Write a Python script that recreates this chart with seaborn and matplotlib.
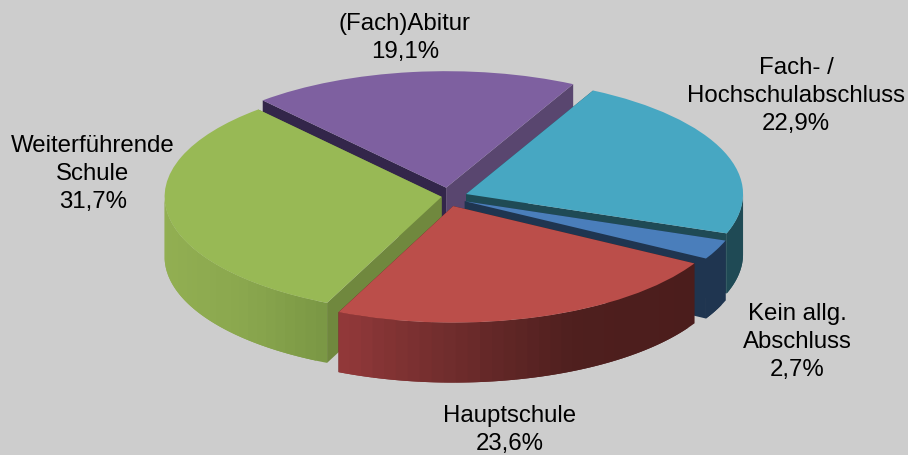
import numpy as np
import matplotlib
matplotlib.use("Agg")
import matplotlib.pyplot as plt
import seaborn as sns

# --- data ---
names = ["Fach- /\nHochschulabschluss", "Kein allg.\nAbschluss", "Hauptschule",
         "Weiterführende\nSchule", "(Fach)Abitur"]
shares = [22.9, 2.7, 23.6, 31.7, 19.1]

# --- styles ---
top_colors = ["#47a7c2", "#4a7ebb", "#bb4e4a", "#98b955", "#7e60a0"]
side_stops = [["#1f4a55", "#1f4a55"],
              ["#1f3550", "#1f3550"],
              ["#4b1d1c", "#4f1f1e", "#6e2c2c", "#93393a"],
              ["#7a9744", "#8aa74e", "#92af52"],
              ["#59466f", "#59466f"]]
cut_start = ["#1f4a55", "#1f3550", "#4b1d1c", "#70883e", "#33264a"]
cut_end = ["#1f4a55", "#1f3550", "#4b1d1c", "#70883e", "#59466f"]
label_pos = [(796, 96), (797, 342), (510, 430), (93, 174), (405, 38)]
nudge_px = [(0, 0), (-1, 3), (-5, 5), (0, 0), (-6.5, -3)]

W, H = 908, 455
RX, RY, DEPTH = 277.0, 116.5, 60.0
CX, CY = 454.2, 196.0
START = 62.7
EXPLODE = 0.046

sns.set_theme(style="white", rc={"figure.facecolor": "#cdcdcd", "axes.facecolor": "#cdcdcd"})
plt.rcParams["font.family"] = ["Liberation Sans", "DejaVu Sans"]

fig = plt.figure(figsize=(W / 100, H / 100), dpi=100)
ax = fig.add_axes([0, 0, 1, 1])

# Tops: one exploded pie, squashed into an ellipse by the unequal axis scales
wedges, _ = ax.pie(shares, explode=[EXPLODE] * len(shares), startangle=START, counterclock=False,
                   colors=top_colors, radius=1.0, wedgeprops={"linewidth": 0, "zorder": 5})
ax.set_aspect("auto")
ax.set_xlim(-CX / RX, (W - CX) / RX)
ax.set_ylim(-(H - CY) / RY, CY / RY)
ax.set_axis_off()

depth = DEPTH / RY
total = sum(shares)
edges = np.cumsum([0] + shares) / total * 360

# Extruded walls, painted back to front
for order, i in enumerate([4, 0, 3, 1, 2]):
    a0 = np.radians(START - edges[i])
    a1 = np.radians(START - edges[i + 1])
    mid = (a0 + a1) / 2
    nx, ny = nudge_px[i][0] / RX, -nudge_px[i][1] / RY
    ox, oy = EXPLODE * np.cos(mid) + nx, EXPLODE * np.sin(mid) + ny
    wedges[i].set_center((ox, oy))
    z = 1 + order * 0.1
    for a, col in ((a0, cut_start[i]), (a1, cut_end[i])):
        x, y = ox + np.cos(a), oy + np.sin(a)
        ax.fill([ox, x, x, ox], [oy, y, y - depth, oy - depth],
                color=col, lw=0, zorder=z)
    angles = np.linspace(a0, a1, 2 + int(np.degrees(a0 - a1) / 2.5))
    angles = angles[np.sin(angles) <= 0.02]
    if len(angles) < 2:
        continue
    xs = ox + np.cos(angles)
    pal = sns.blend_palette(side_stops[i], 64)
    lo, hi = xs.min(), xs.max()
    for j in range(len(angles) - 1):
        # each band runs on under the next one, so no seam shows between them
        seg = angles[j:j + 3]
        seg = np.linspace(seg[0], seg[-1], 8)
        ax_x = ox + np.cos(seg)
        ax_y = oy + np.sin(seg)
        frac = 1 - ((xs[j] + xs[j + 1]) / 2 - lo) / max(hi - lo, 1e-6)
        ax.fill(np.r_[ax_x, ax_x[::-1]], np.r_[ax_y, ax_y[::-1] - depth],
                color=pal[int(frac * 63)], lw=0, zorder=z + 0.01 + j * 1e-4)

for name, val, (px, py) in zip(names, shares, label_pos):
    txt = name + "\n" + f"{val:.1f}".replace(".", ",") + "%"
    fig.text(px / W, 1 - py / H, txt, ha="center", va="center", fontsize=17.3,
             color="black", linespacing=1.33)

fig.savefig("out.png", dpi=100, facecolor=fig.get_facecolor())
